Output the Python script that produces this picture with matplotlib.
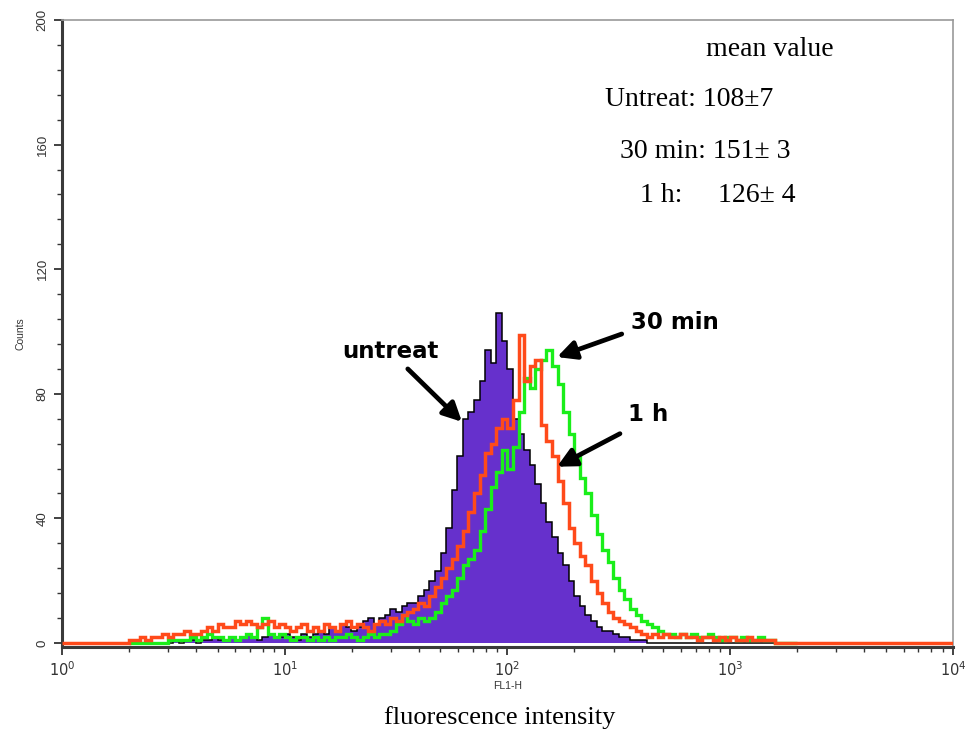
import numpy as np
import matplotlib
matplotlib.use("Agg")
import matplotlib.pyplot as plt
from matplotlib.ticker import MultipleLocator, LogLocator

# histogram channels: log10 bin edges, 1/40 decade from 10^0.3
LOG_START, LOG_STEP, N_BINS = 0.3, 0.025, 120

untreat = [0, 0, 0, 0, 0, 0, 0, 0, 1, 0,
           1, 1, 0, 1, 1, 2, 1, 1, 2, 1,
           2, 3, 2, 1, 2, 3, 2, 2, 3, 2,
           1, 3, 2, 3, 4, 3, 5, 4, 6, 5,
           4, 5, 7, 8, 6, 8, 9, 11, 10, 12,
           13, 13, 15, 17, 20, 23, 29, 37, 49, 60,
           72, 74, 78, 84, 94, 90, 106, 97, 88, 72,
           67, 62, 57, 51, 45, 39, 34, 29, 25, 20,
           15, 12, 9, 7, 5, 4, 4, 3, 2, 2,
           1, 1, 1, 0, 0, 0, 0, 0, 0, 0,
           0, 0, 0, 0, 0, 0, 0, 0, 0, 0,
           0, 0, 0, 0, 0, 0, 0, 0, 0, 0]

one_h = [1, 1, 2, 1, 2, 2, 3, 2, 3, 3,
         4, 3, 3, 4, 5, 4, 6, 5, 5, 7,
         6, 7, 6, 5, 6, 7, 5, 6, 5, 4,
         5, 6, 4, 5, 4, 6, 5, 4, 6, 7,
         5, 6, 5, 4, 6, 7, 6, 8, 7, 9,
         10, 11, 13, 12, 15, 18, 21, 24, 27, 31,
         36, 42, 48, 54, 61, 64, 69, 72, 69, 78,
         99, 84, 89, 91, 70, 65, 60, 52, 45, 37,
         32, 28, 25, 20, 16, 13, 10, 8, 7, 6,
         5, 4, 3, 2, 3, 2, 3, 2, 2, 3,
         2, 2, 1, 2, 2, 1, 2, 1, 2, 1,
         1, 2, 1, 1, 1, 1, 0, 0, 0, 0]

min30 = [0, 0, 0, 0, 0, 0, 0, 1, 1, 1,
         1, 2, 1, 2, 3, 2, 2, 1, 2, 1,
         2, 3, 2, 5, 8, 3, 2, 3, 2, 1,
         2, 2, 1, 2, 1, 2, 1, 2, 2, 3,
         2, 1, 2, 3, 2, 3, 3, 4, 6, 9,
         7, 6, 8, 7, 8, 10, 13, 15, 17, 21,
         25, 27, 30, 36, 43, 50, 55, 62, 56, 63,
         74, 85, 82, 88, 91, 94, 89, 83, 74, 67,
         60, 53, 48, 41, 35, 30, 26, 21, 17, 14,
         11, 9, 7, 6, 5, 4, 3, 3, 2, 3,
         2, 3, 2, 2, 3, 2, 1, 2, 2, 1,
         2, 1, 1, 2, 1, 1, 0, 0, 0, 0]

mean_lines = ["Untreat: 108\u00b17", "30 min: 151\u00b1 3"]

C_PURPLE = "#6630cc"
C_GREEN = "#1aee1a"
C_RED = "#ff4a1a"

edges = 10 ** (LOG_START + LOG_STEP * np.arange(N_BINS + 1))

fig = plt.figure(figsize=(9.67, 7.40), dpi=100)
ax = fig.add_axes([0.064, 0.126, 0.9215, 0.847])

ax.stairs(untreat, edges, fill=True, color=C_PURPLE, zorder=1)
ax.stairs(untreat, edges, color="black", lw=1.1, zorder=1.5)
ax.stairs(min30, edges, color=C_GREEN, lw=2.4, zorder=2)
# red trace also runs along the zero line across the whole axis
red_edges = np.concatenate([[1.0], edges, [1e4]])
ax.stairs([0] + one_h + [0], red_edges, color=C_RED, lw=2.5, zorder=3,
          baseline=None)

ax.set_xscale("log")
ax.set_xlim(1, 1e4)
ax.set_ylim(-1.2, 200)
ax.yaxis.set_major_locator(MultipleLocator(40))
ax.yaxis.set_minor_locator(MultipleLocator(8))
ax.xaxis.set_major_locator(LogLocator(base=10))
ax.xaxis.set_minor_locator(LogLocator(base=10, subs=np.arange(2, 10)))

for s in ("left", "bottom"):
    ax.spines[s].set_color("#3a3a3a")
    ax.spines[s].set_linewidth(2.2)
for s in ("top", "right"):
    ax.spines[s].set_color("#999999")
    ax.spines[s].set_linewidth(1.2)

ax.tick_params(which="major", direction="out", length=6, width=1.3,
               color="#333333", labelcolor="#333333")
ax.tick_params(axis="x", which="major", labelsize=10.5)
ax.tick_params(axis="y", which="major", labelsize=9.5)
ax.tick_params(which="minor", direction="out", length=3.5, width=1.0,
               color="#333333")
for lab in ax.get_yticklabels():
    lab.set_rotation(90)
    lab.set_va("center")
    lab.set_family("Liberation Sans")

ax.set_ylabel("Counts", fontsize=7.5, family="Liberation Sans", labelpad=8,
              color="#333333")
ax.set_xlabel("FL1-H", fontsize=7.5, family="Liberation Sans", labelpad=2,
              color="#333333")
fig.text(0.517, 0.031, "fluorescence intensity", fontsize=19,
         family="Liberation Serif", ha="center", va="center")

# mean-value box (upper right)
serif = dict(fontsize=20, family="Liberation Serif", va="center")
fig.text(0.796, 0.933, "mean value", ha="center", **serif)
fig.text(0.626, 0.865, mean_lines[0], ha="left", **serif)
fig.text(0.641, 0.795, mean_lines[1], ha="left", **serif)
fig.text(0.662, 0.736, "1 h:", ha="left", **serif)
fig.text(0.742, 0.736, "126\u00b1 4", ha="left", **serif)

# arrow labels
bold = dict(fontsize=16.5, fontweight="bold", family="DejaVu Sans",
            ha="center", va="center")
arrow = dict(arrowstyle="-|>", lw=3.4, color="black", mutation_scale=28,
             shrinkA=0, shrinkB=0)
ax.text(29.7, 93.5, "untreat", **bold)
ax.annotate("", xy=(62.5, 71), xytext=(35.7, 88), arrowprops=arrow)
ax.text(565, 103, "30 min", **bold)
ax.annotate("", xy=(167, 91.8), xytext=(326, 99.2), arrowprops=arrow)
ax.text(427, 73.3, "1 h", **bold)
ax.annotate("", xy=(167, 56.6), xytext=(320, 67.2), arrowprops=arrow)

fig.savefig("out.png", dpi=100)
